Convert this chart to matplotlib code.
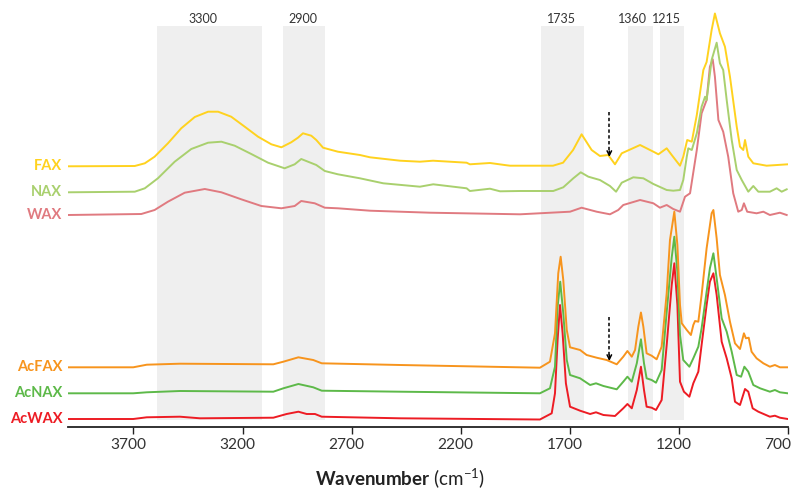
import matplotlib
matplotlib.use("Agg")
import matplotlib.pyplot as plt
from matplotlib.transforms import ScaledTranslation

# ---- data (wavenumber in cm-1, stacked intensity in arbitrary units) ----
fax_wn = [4000, 3694, 3648, 3603, 3542, 3481, 3419, 3358, 3312, 3252, 3190, 3129, 3068, 3022, 2977,
          2946, 2923, 2885, 2862, 2831, 2763, 2662, 2616, 2478, 2387, 2327, 2173, 2158, 2066, 1989,
          1974, 1777, 1731, 1685, 1646, 1600, 1562, 1524, 1493, 1462, 1378, 1317, 1294, 1256, 1233,
          1195, 1180, 1162, 1141, 1118, 1088, 1073, 1050, 1035, 1012, 989, 966, 935, 920, 905, 897,
          882, 859, 798, 701]
fax_y = [260.7, 261, 263.7, 270.3, 283.7, 298.7, 310, 315.3, 315.3, 310.3, 300.3, 290.3, 282.7, 279.7, 284.7,
         289.3, 293.7, 291.3, 287, 279.3, 275.3, 272, 269.7, 266.3, 265.3, 266.3, 264.3, 262.7, 264, 261.7,
         261.3, 261.3, 264.3, 277, 292.7, 277, 271, 272, 262.7, 273.7, 282, 275.3, 272.7, 278.7, 272,
         261.3, 270.3, 287, 285.3, 312, 357, 365, 397, 413.5, 393.7, 380.3, 350.3, 300.3, 280.3, 277, 287,
         270.3, 263.7, 261.3, 262.7]

nax_wn = [4000, 3694, 3648, 3588, 3511, 3435, 3358, 3297, 3236, 3160, 3083, 3007, 2961, 2931, 2900,
          2862, 2823, 2763, 2662, 2555, 2387, 2326, 2173, 2158, 2066, 2020, 1928, 1776, 1730, 1684,
          1650, 1615, 1562, 1516, 1488, 1462, 1409, 1363, 1317, 1256, 1226, 1195, 1180, 1164, 1157,
          1141, 1118, 1096, 1080, 1073, 1050, 1027, 1012, 997, 981, 958, 935, 912, 882, 859, 836,
          783, 752, 729, 706]
nax_y = [234.7, 235.3, 238.7, 248.7, 265.3, 278, 284.3, 285.3, 281.3, 273, 264.3, 258.7, 262.7, 268, 265.3,
         262, 256, 252.7, 248.7, 243.7, 240.3, 242.7, 238.7, 236, 238.3, 235.7, 236, 236, 239.7, 248.7,
         254.7, 250.3, 247, 241, 235.3, 244.3, 249.7, 248.7, 243, 237, 236.3, 237, 247, 270.3, 278.7,
         277, 293.7, 320.3, 330.3, 327, 367, 384.3, 363.7, 357, 327, 287, 257, 247, 235.3, 241, 235.3,
         235.3, 238.7, 235.3, 237.7]

wax_wn = [4000, 3664, 3603, 3542, 3465, 3373, 3297, 3206, 3114, 3022, 2961, 2931, 2869, 2823, 2763,
          2616, 2341, 1928, 1699, 1646, 1577, 1516, 1478, 1455, 1378, 1317, 1287, 1256, 1226, 1195,
          1172, 1149, 1118, 1096, 1073, 1058, 1045, 1035, 1019, 997, 974, 951, 928, 912, 902, 887,
          844, 813, 783, 737, 706]
wax_y = [212, 213, 217, 225.3, 234.3, 238, 234.7, 227.7, 221, 218.7, 221, 226, 223.7, 219.3, 218.7,
         216.3, 214.3, 212.7, 215.3, 219.3, 215.3, 212.7, 217, 222, 227, 223.7, 219.3, 222, 218, 215.3,
         230.3, 233.7, 277, 313.7, 327, 360.3, 367.7, 350.3, 307, 295.3, 270.3, 233.7, 215.3, 217, 223.7, 215.3,
         213.7, 215.3, 212, 214.3, 212]

acfax_wn = [4000, 3701, 3639, 3487, 3059, 3013, 2944, 2876, 2837, 2478, 1837, 1791, 1768, 1753, 1742,
            1730, 1714, 1699, 1653, 1623, 1577, 1531, 1485, 1455, 1436, 1416, 1401, 1386, 1374, 1363,
            1348, 1325, 1302, 1279, 1264, 1256, 1241, 1221, 1207, 1195, 1187, 1164, 1145, 1134, 1126,
            1111, 1096, 1073, 1050, 1042, 1027, 1012, 989, 966, 943, 920, 902, 893, 880, 867, 844,
            813, 783, 760, 737, 701]
acfax_y = [59.7, 59.7, 62.3, 63.3, 62.7, 65.3, 69.7, 67, 63.7, 62, 59.3, 65.3, 93.7, 153.7, 170.3,
           147, 97, 79.7, 77, 72, 69.3, 67, 62.7, 70.3, 76, 70.3, 77, 100.3, 114.5, 100.3,
           73.7, 71.3, 67.7, 80.3, 115.3, 133.7, 187, 215.3, 182, 122, 103.7, 97, 92, 102, 106,
           105.3, 132, 178.7, 213.7, 217, 188.7, 152, 132, 105.3, 83.7, 78, 93.7, 88.7, 89.3, 75.3, 68.7,
           63.7, 60.3, 62, 59.7, 59.7]

acnax_wn = [4000, 3701, 3639, 3487, 3059, 3013, 2944, 2876, 2837, 2478, 1837, 1791, 1768, 1756, 1744,
            1730, 1714, 1699, 1653, 1607, 1580, 1546, 1485, 1455, 1436, 1416, 1393, 1374, 1360, 1348,
            1325, 1305, 1279, 1256, 1233, 1221, 1207, 1195, 1180, 1152, 1134, 1111, 1096, 1073, 1058,
            1042, 1027, 1004, 981, 958, 935, 915, 900, 882, 859, 828, 783, 760, 737, 701]
acnax_y = [33.7, 33.7, 34.7, 36, 35.3, 38.7, 43, 39.7, 36.3, 35.3, 33.7, 38.7, 60.3, 120.3, 145.3,
           113.7, 67, 52, 48.7, 42, 43.7, 41, 37.7, 45.3, 50.3, 45.3, 63.7, 87.7, 63.7, 48.7,
           47, 44.3, 57, 115, 169.5, 190.3, 155.3, 92, 67, 60.3, 68.7, 80.3, 98.7, 135.3, 158.7,
           173.7, 148.7, 108.7, 95.3, 75.3, 52, 50.3, 60.3, 55.3, 42, 38.7, 35.3, 37, 34.7, 33.7]

acwax_wn = [4000, 3701, 3639, 3487, 3395, 3059, 2998, 2944, 2906, 2868, 2837, 2478, 1837, 1783, 1768,
            1756, 1745, 1733, 1718, 1699, 1653, 1607, 1580, 1546, 1493, 1455, 1436, 1416, 1393, 1374,
            1360, 1348, 1325, 1305, 1279, 1256, 1233, 1221, 1207, 1195, 1177, 1152, 1134, 1111, 1096,
            1073, 1058, 1042, 1027, 1004, 981, 958, 943, 920, 897, 882, 862, 836, 783, 760, 737, 701]
acwax_y = [8, 8, 9.7, 10.3, 8.7, 9.3, 13, 15.3, 13, 13, 10.3, 8.7, 7.5, 13.7, 33.7,
           87, 122, 93.7, 43.7, 20.3, 16.3, 13, 14.7, 12, 11, 18.7, 23, 18.7, 37, 60.3,
           37, 20.3, 19.3, 17, 27, 82, 142, 163.7, 122, 45.3, 35.3, 30.3, 43.7, 55.3, 82,
           122, 145.3, 153.7, 132, 85.3, 68.7, 48.7, 25.3, 22, 38, 35.3, 18.7, 15.3, 10.3, 11.3, 9.3, 8]

series_names = ["FAX", "NAX", "WAX", "AcFAX", "AcNAX", "AcWAX"]
series_colors = ["#FFD21F", "#A9D06E", "#E07A80", "#F7941D", "#5DB949", "#ED1C24"]

band_labels = ["3300", "2900", "1735", "1360", "1215"]
band_edges = [(3590, 3110), (3015, 2820), (1830, 1635), (1435, 1320), (1285, 1175)]
band_label_pos = [3381, 2923, 1740, 1415, 1259]

arrow_wn = 1519
arrow_upper = (315, 270)
arrow_lower = (110, 66)

xticks = [3700, 3200, 2700, 2200, 1700, 1200, 700]

# ---- plotting ----
plt.rcParams['font.family'] = ['Lato', 'DejaVu Sans']
plt.rcParams['mathtext.fontset'] = 'custom'
plt.rcParams['mathtext.rm'] = 'Lato'
plt.rcParams['mathtext.bf'] = 'Lato:bold'

W, H = 794, 494
fig = plt.figure(figsize=(W / 100, H / 100), dpi=100)
ax = fig.add_axes([68 / W, 67 / H, 720 / W, 427 / H])
ax.set_xlim(4000, 700)
ax.set_ylim(0, 427)

for (a, b), lab, lp in zip(band_edges, band_labels, band_label_pos):
    ax.axvspan(b, a, ymin=7 / 427, ymax=401 / 427, color="#EFEFEF", lw=0, zorder=0)
    ax.text(lp, 408, lab, ha="center", va="center", fontsize=9, color="#333333")

xs = [fax_wn, nax_wn, wax_wn, acfax_wn, acnax_wn, acwax_wn]
ys = [fax_y, nax_y, wax_y, acfax_y, acnax_y, acwax_y]
order = [2, 1, 0, 5, 4, 3]
for i in order:
    ax.plot(xs[i], ys[i], color=series_colors[i], lw=1.4, zorder=3, solid_joinstyle="round")
for i in range(6):
    ax.text(-0.008, ys[i][0], series_names[i], transform=ax.get_yaxis_transform(),
            ha="right", va="center", fontsize=10.5, fontweight="bold", color=series_colors[i])

for top, bot in (arrow_upper, arrow_lower):
    ax.plot([arrow_wn, arrow_wn], [top, bot + 4], color="black", lw=1.1,
            ls=(0, (2.2, 1.6)), zorder=4)
    ax.annotate("", xy=(arrow_wn, bot), xytext=(arrow_wn, bot + 6),
                arrowprops=dict(arrowstyle="->", lw=1.1, color="black",
                                mutation_scale=8, shrinkA=0, shrinkB=0), zorder=4)

for s in ["top", "right", "left"]:
    ax.spines[s].set_visible(False)
ax.spines["bottom"].set_color("#222222")
ax.spines["bottom"].set_linewidth(1.3)
ax.set_yticks([])
ax.set_xticks(xticks)
ax.set_xticklabels([str(t) for t in xticks])
ax.tick_params(axis="x", direction="out", length=5, width=1, color="#222222",
               labelsize=11.2, labelcolor="#333333", pad=3)
labels = ax.get_xticklabels()
for k, lbl in enumerate(labels):
    dx = -10 if k == len(labels) - 1 else -5.5
    lbl.set_transform(lbl.get_transform() + ScaledTranslation(dx / 100, 0, fig.dpi_scale_trans))
ax.set_xlabel(r"$\mathbf{Wavenumber}$ (cm$^{-1}$)", fontsize=13.5, color="#222222")
ax.xaxis.set_label_coords((400 - 68) / 720, (427 - 466) / 427)

fig.savefig("out.png", dpi=100)
